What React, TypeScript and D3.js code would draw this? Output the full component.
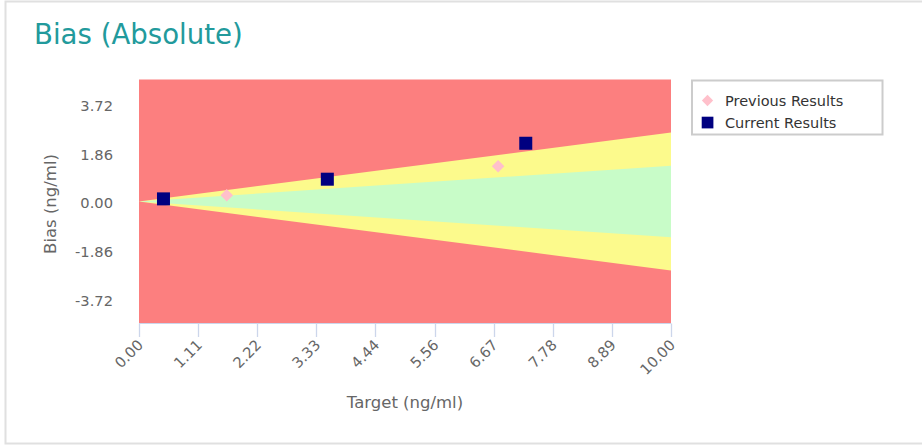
import React from "react";
import * as d3 from "d3";

const xTickValues = [0, 1.111, 2.222, 3.333, 4.444, 5.556, 6.667, 7.778, 8.889, 10];
const xTickLabels = ["0.00", "1.11", "2.22", "3.33", "4.44", "5.56", "6.67", "7.78", "8.89", "10.00"];
const yTickValues = [3.72, 1.86, 0, -1.86, -3.72];
const yTickLabels = ["3.72", "1.86", "0.00", "-1.86", "-3.72"];

const bandX = [0, 10];
const yellowUpper = [0, 2.63];
const greenUpper = [0, 1.36];
const greenLower = [0, -1.36];
const yellowLower = [0, -2.63];

const previousX = [1.65, 6.75];
const previousY = [0.24, 1.34];
const currentX = [0.46, 3.54, 7.27];
const currentY = [0.1, 0.85, 2.22];

const legendLabels = ["Previous Results", "Current Results"];

const FONT = "'DejaVu Sans', sans-serif";

export default function App() {
  const x = d3.scaleLinear().domain([0, 10]).range([139, 671]);
  const y = d3.scaleLinear().domain([-4.65, 4.65]).range([323.5, 79.5]);

  const band = (lo: number[], hi: number[]) =>
    d3
      .area<number>()
      .x((d) => x(d))
      .y0((_, i) => y(lo[i]))
      .y1((_, i) => y(hi[i]))(bandX) as string;

  const diamond = d3.symbol().type(d3.symbolDiamond2).size(100)() as string;

  return (
    <svg
      width={922}
      height={447}
      style={{ position: "absolute", left: 0, top: 0, background: "#fff" }}
      fontFamily={FONT}
    >
      <rect x={5.5} y={1.5} width={930} height={442} fill="#fff" stroke="#e0e0e0" strokeWidth={2} />
      <text x={34} y={44} fontSize={27.6} fill="#229a9c">
        Bias (Absolute)
      </text>

      {/* plot background bands */}
      <rect x={x(0)} y={y(4.65)} width={x(10) - x(0)} height={y(-4.65) - y(4.65)} fill="#fc7f7f" />
      <path d={band(yellowLower, yellowUpper)} fill="#fcfa8c" />
      <path d={band(greenLower, greenUpper)} fill="#c8fcc8" />

      {/* x axis */}
      <line x1={x(0)} x2={x(10)} y1={323.5} y2={323.5} stroke="#ccd6eb" strokeWidth={1} />
      {xTickValues.map((v, i) => (
        <g key={i}>
          <line x1={Math.round(x(v)) + 0.5} x2={Math.round(x(v)) + 0.5} y1={323.5} y2={337} stroke="#ccd6eb" strokeWidth={1.3} />
          <text
            transform={`translate(${x(v) + 5},${346}) rotate(-45)`}
            textAnchor="end"
            fontSize={14.67}
            fill="#666666"
          >
            {xTickLabels[i]}
          </text>
        </g>
      ))}
      <text x={405} y={407.5} textAnchor="middle" fontSize={16.5} fill="#666666">
        Target (ng/ml)
      </text>

      {/* y axis */}
      {yTickValues.map((v, i) => (
        <text key={i} x={113} y={y(v) + 6.8} textAnchor="end" fontSize={14.67} fill="#666666">
          {yTickLabels[i]}
        </text>
      ))}
      <text
        transform={`translate(${56},${204}) rotate(-90)`}
        textAnchor="middle"
        fontSize={16.5}
        fill="#666666"
      >
        Bias (ng/ml)
      </text>

      {/* points */}
      {previousX.map((v, i) => (
        <path key={"p" + i} d={diamond} transform={`translate(${x(v)},${y(previousY[i])})`} fill="#ffc0cb" />
      ))}
      {currentX.map((v, i) => (
        <rect
          key={"c" + i}
          x={x(v) - 6.5}
          y={y(currentY[i]) - 6.5}
          width={13}
          height={13}
          fill="#000080"
        />
      ))}

      {/* legend */}
      <rect x={692} y={80.5} width={190.5} height={54} fill="#fff" stroke="#cccccc" strokeWidth={2} />
      <path d={diamond} transform={`translate(707.5,100.5) scale(0.9)`} fill="#ffc0cb" />
      <text x={725} y={105.5} fontSize={14.5} fill="#333333">
        {legendLabels[0]}
      </text>
      <rect x={701.7} y={116.7} width={11.7} height={11.7} fill="#000080" />
      <text x={725} y={127.5} fontSize={14.5} fill="#333333">
        {legendLabels[1]}
      </text>
    </svg>
  );
}
